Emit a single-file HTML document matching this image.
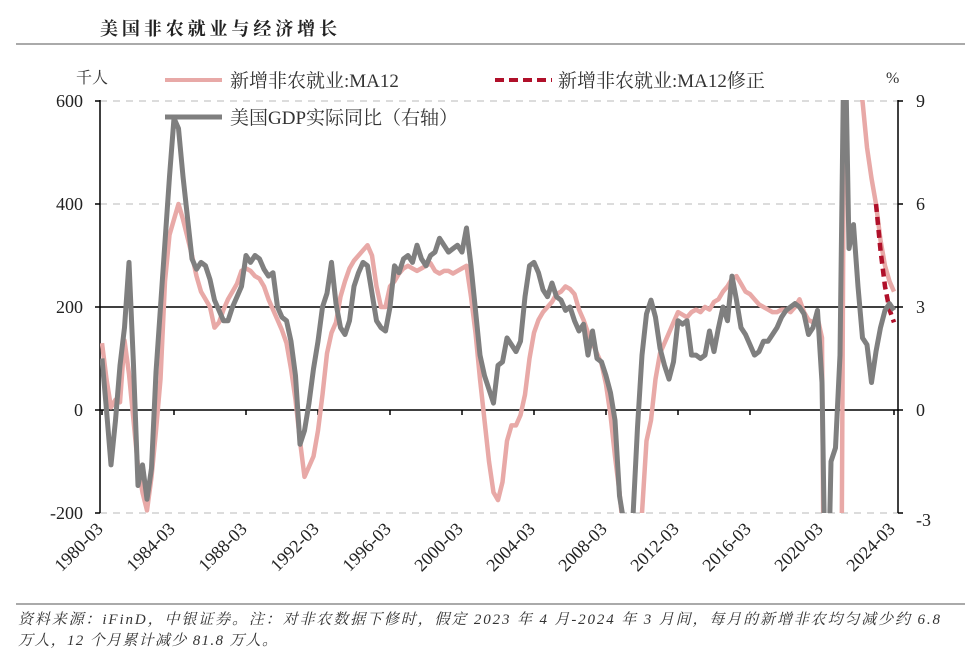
<!DOCTYPE html>
<html><head><meta charset="utf-8">
<style>
html,body{margin:0;padding:0;background:#fff;width:965px;height:662px;overflow:hidden;}
svg{display:block;}
.t{font-family:"Liberation Serif","Noto Serif CJK SC",serif;}
</style></head>
<body>
<svg id="chart" width="965" height="662" viewBox="0 0 965 662" xmlns="http://www.w3.org/2000/svg">
<text class="t" x="100" y="35" font-size="18" font-weight="bold" fill="#222" textLength="237" lengthAdjust="spacing">美国非农就业与经济增长</text>
<line x1="16" y1="44" x2="965" y2="44" stroke="#555" stroke-width="1"/>
<text class="t" x="76" y="83" font-size="16" fill="#333">千人</text>
<text class="t" x="886" y="83" font-size="16" fill="#333">%</text>
<g>
<line x1="165" y1="80" x2="222" y2="80" stroke="#e8a9a7" stroke-width="4"/>
<text class="t" x="230" y="87" font-size="19" fill="#333">新增非农就业:MA12</text>
<line x1="495" y1="80" x2="552" y2="80" stroke="#b0102a" stroke-width="4" stroke-dasharray="9,5"/>
<text class="t" x="558" y="87" font-size="19" fill="#333">新增非农就业:MA12修正</text>
<line x1="165" y1="117" x2="222" y2="117" stroke="#7f7f7f" stroke-width="5"/>
<text class="t" x="230" y="124" font-size="19" fill="#333">美国GDP实际同比（右轴）</text>
</g>
<g id="axes"></g>
<g id="marks"></g>
<line x1="16" y1="604" x2="965" y2="604" stroke="#555" stroke-width="1"/>
<text class="t" x="18" y="624" font-size="15" font-style="italic" fill="#333" textLength="922" lengthAdjust="spacing">资料来源：iFinD，中银证券。注：对非农数据下修时，假定 2023 年 4 月-2024 年 3 月间，每月的新增非农均匀减少约 6.8</text>
<text class="t" x="18" y="645" font-size="15" font-style="italic" fill="#333" textLength="259" lengthAdjust="spacing">万人，12 个月累计减少 81.8 万人。</text>
</svg>
<script>
const leftTicks=[600,400,200,0,-200];
const rightTicks=[9,6,3,0,-3];
const xTickYears=[1980,1984,1988,1992,1996,2000,2004,2008,2012,2016,2020,2024];
const startYear=1980;
const gdp=[1.5,0.0,-1.6,-0.3, 1.3,2.4,4.3,1.3, -2.2,-1.6,-2.6,-1.7, 1.1,3.0,4.9,6.8, 8.5,8.2,6.8,5.6,
4.4,4.1,4.3,4.2, 3.8,3.2,2.9,2.6, 2.6,3.0,3.3,3.6, 4.5,4.3,4.5,4.4, 4.1,3.9,4.0,3.0,
2.7,2.6,2.0,1.0, -1.0,-0.6,0.2,1.2, 2.0,3.0,3.4,4.3, 3.1,2.4,2.2,2.6, 3.6,4.0,4.3,4.2,
3.4,2.6,2.4,2.3, 3.0,4.2,4.0,4.4, 4.5,4.3,4.8,4.4, 4.2,4.5,4.6,5.0, 4.8,4.6,4.7,4.8,
4.6,5.3,4.2,2.9, 1.6,1.0,0.6,0.2, 1.3,1.4,2.1,1.9, 1.7,2.0,3.3,4.2, 4.3,4.0,3.5,3.3,
3.7,3.3,3.2,2.9, 3.0,2.6,2.3,2.5, 1.6,2.3,1.5,1.4, 1.0,0.5,-0.3,-2.5, -3.3,-4.0,-3.1,-0.5,
1.6,2.8,3.2,2.7, 1.8,1.3,0.9,1.4, 2.6,2.5,2.6,1.6, 1.6,1.5,1.6,2.3, 1.7,2.4,3.0,2.6,
3.9,3.2,2.4,2.2, 1.9,1.6,1.7,2.0, 2.0,2.2,2.4,2.7, 2.9,3.0,3.1,3.0, 2.8,2.2,2.4,2.9,
0.8,-7.5,-1.5,-1.1, 1.6,12.0,4.7,5.4, 3.6,2.1,1.9,0.8, 1.7,2.4,2.9,3.1, 2.9];
const payroll=[130,60,5,20, 15,135,70,-20, -110,-160,-195,-130, -40,60,250,340, 370,400,370,335,
300,260,230,215, 200,160,170,195, 215,230,245,270, 275,270,260,255, 240,215,195,175,
155,130,80,20, -60,-130,-110,-90, -40,30,110,150, 170,220,250,275, 290,300,310,320,
300,240,200,200, 240,250,265,275, 280,275,270,275, 280,285,270,265, 270,270,265,270,
275,280,220,150, 60,-20,-100,-160, -175,-140,-60,-30, -30,-10,30,100, 150,175,190,200,
210,225,230,240, 235,225,195,175, 150,130,110,90, 50,-10,-90,-160, -250,-350,-400,-380,
-200,-60,-20,60, 110,130,150,170, 190,185,180,190, 195,190,200,195, 210,215,230,240,
255,260,245,230, 225,215,205,200, 195,190,190,195, 195,190,200,215, 190,175,170,180,
140,-1200,-800,-750, -900,800,700,650, 640,600,510,450, 400,330,280,250, 230];
const revisedStart=2023;
const revised=[400,310,240,195,170];

const X0=102,PX=18,L=100,R=898,T=100,B=513;
const xs=t=>X0+(t-startYear)*PX;
const yl=v=>410-v*103/200;
const yr=v=>410-v*103/3;
const NS="http://www.w3.org/2000/svg";
function mk(tag,attrs,parent){const e=document.createElementNS(NS,tag);for(const k in attrs)e.setAttribute(k,attrs[k]);parent.appendChild(e);return e;}
const axes=document.getElementById('axes'),marks=document.getElementById('marks');
const defs=mk('defs',{},marks);const cp=mk('clipPath',{id:'pc'},defs);mk('rect',{x:L,y:T,width:R-L,height:B-T},cp);
leftTicks.forEach(v=>{
  const y=yl(v);
  const solid=(v===200||v===0);
  const g=mk('line',{x1:L,y1:y,x2:R,y2:y,stroke:solid?'#000':'#d0d0d0','stroke-width':1.5,'stroke-dasharray':solid?'none':'7,6'},axes);
  
  
  const tk=mk('line',{x1:L-5,y1:y,x2:L,y2:y,stroke:'#000','stroke-width':1.5},axes);
  
  
  const t=mk('text',{x:L-17,y:y+6,'text-anchor':'end','font-size':18,fill:'#222',class:'t'},axes);t.textContent=v;
  
  
});
rightTicks.forEach(v=>{
  const y=yr(v);
  const tk=mk('line',{x1:R,y1:y,x2:R+5,y2:y,stroke:'#000','stroke-width':1.5},axes);
  
  
  const t=mk('text',{x:R+18,y:y+(v<0?13:6),'font-size':18,fill:'#222',class:'t'},axes);t.textContent=v;
  
  
});
const la=mk('line',{x1:L,y1:T,x2:L,y2:B,stroke:'#000','stroke-width':1.5},axes);


const ra=mk('line',{x1:R,y1:T,x2:R,y2:B,stroke:'#000','stroke-width':1.5},axes);


xTickYears.forEach(yv=>{
  const x=xs(yv);
  const tk=mk('line',{x1:x,y1:410,x2:x,y2:415,stroke:'#000','stroke-width':1.5},axes);
  
  
  const t=mk('text',{x:x+2,y:530,'text-anchor':'end','font-size':18,fill:'#222',class:'t',transform:`rotate(-45 ${x+2} 530)`},axes);
  t.textContent=yv+'-03';
  
  
});
function path(arr,t0,yf){return arr.map((v,i)=>(i?'L':'M')+xs(t0+i/4).toFixed(1)+','+yf(v).toFixed(1)).join(' ');}
const g=mk('g',{'clip-path':'url(#pc)'},marks);
const p1=mk('path',{d:path(payroll,startYear,yl),fill:'none',stroke:'#e8a9a7','stroke-width':4.5,'stroke-linejoin':'round'},g);


const p2=mk('path',{d:path(revised,revisedStart,yl),fill:'none',stroke:'#b0102a','stroke-width':4.5,'stroke-dasharray':'8,5'},g);


const p3=mk('path',{d:path(gdp,startYear,yr),fill:'none',stroke:'#7f7f7f','stroke-width':5,'stroke-linejoin':'round'},g);


</script>
</body></html>
